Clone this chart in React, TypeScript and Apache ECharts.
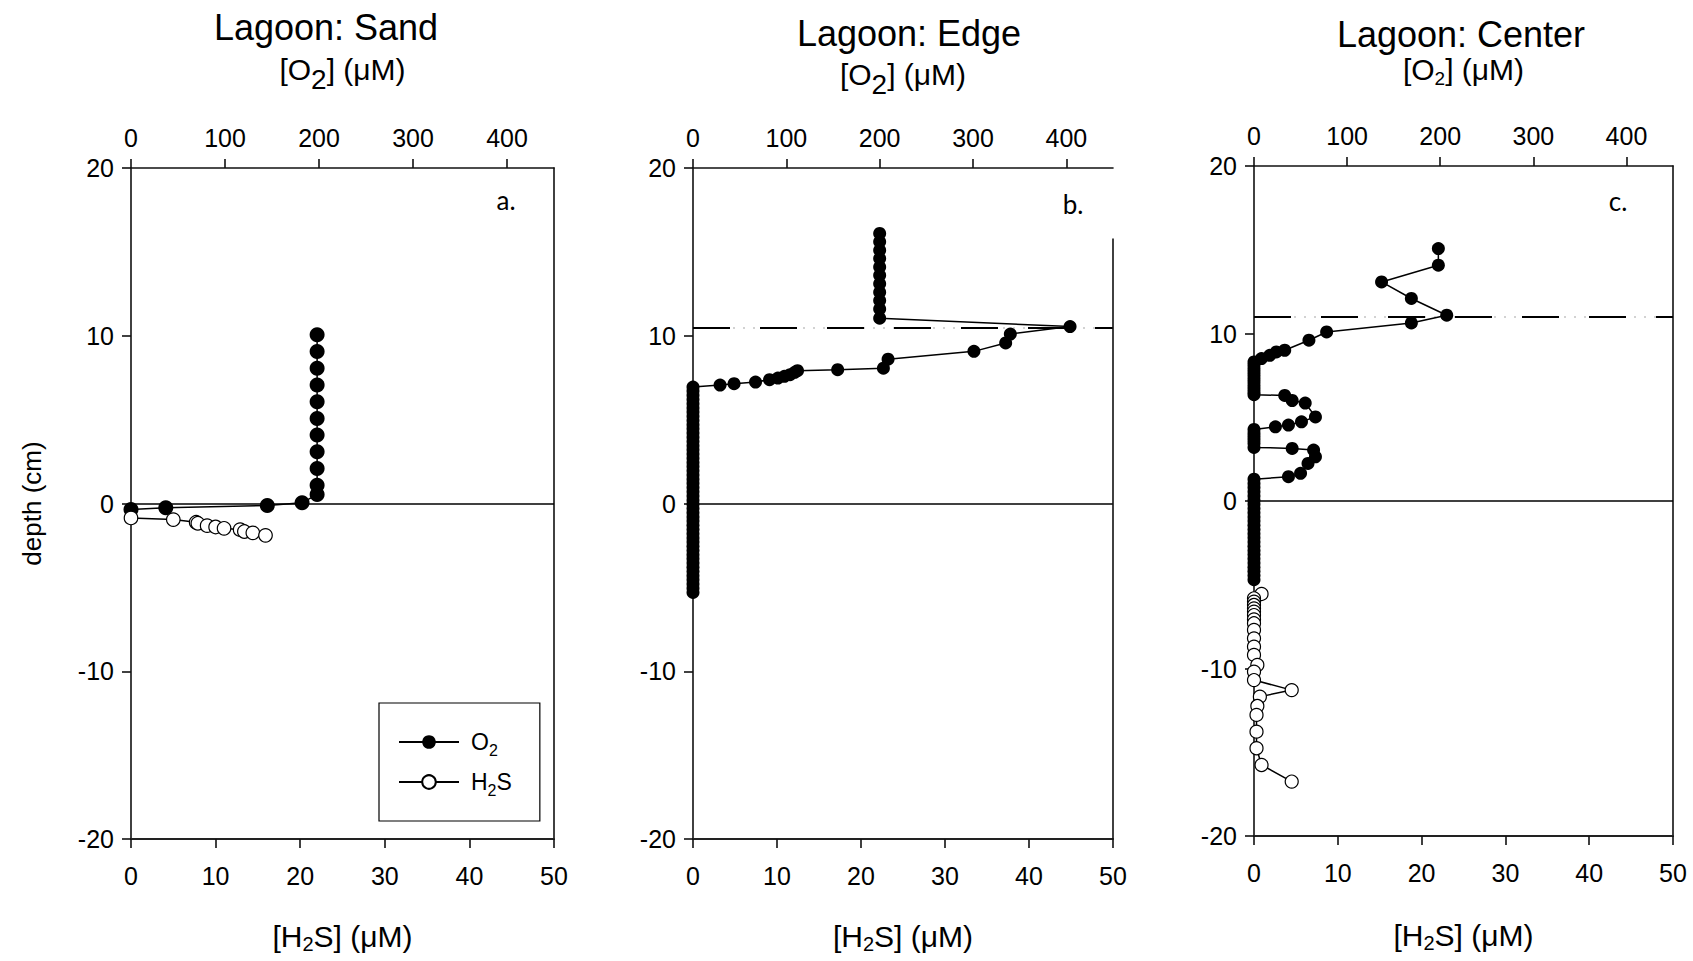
import React, { useEffect, useRef } from 'react';
import * as echarts from 'echarts';

const FONT = '"Liberation Sans", Arial, Helvetica, sans-serif';
const LETTER_FONT = 'Lato, "Open Sans", sans-serif';

// ---------- axis ranges / ticks ----------
const depthMin = -20;
const depthMax = 20;
const depthStep = 10;
const o2Max = 450;
const o2TickValues = [0, 100, 200, 300, 400];
const h2sMax = 50;
const h2sStep = 10;

// ---------- Lagoon: Sand ----------
const sandO2Depth = [-0.36, -0.26, -0.12, 0.04, 0.54, 1.09, 2.09, 3.08, 4.08, 5.07, 6.07, 7.07, 8.06, 9.06, 10.06];
const sandO2 = [0, 37, 145, 182, 198, 198, 198, 198, 198, 198, 198, 198, 198, 198, 198];
const sandH2SDepth = [-0.86, -0.96, -1.12, -1.18, -1.32, -1.4, -1.48, -1.56, -1.67, -1.75, -1.9];
const sandH2S = [0, 5.0, 7.7, 7.9, 9.0, 10.0, 11.0, 12.9, 13.4, 14.4, 15.9];

// ---------- Lagoon: Edge ----------
const edgeO2Depth = [
  16.1, 15.6, 15.1, 14.6, 14.1, 13.6, 13.1, 12.6, 12.1, 11.6, 11.05,
  10.55, 10.1, 9.57, 9.07, 8.6, 8.07, 7.98, 7.92, 7.82, 7.68, 7.58, 7.48, 7.38, 7.24, 7.14, 7.06, 6.94,
  6.7, 6.45, 6.2, 5.95, 5.7, 5.45, 5.2, 4.95, 4.7, 4.45,
  4.2, 3.95, 3.7, 3.45, 3.2, 2.95, 2.7, 2.45, 2.2, 1.95,
  1.7, 1.45, 1.2, 0.95, 0.7, 0.45, 0.2, -0.05, -0.3, -0.55,
  -0.8, -1.05, -1.3, -1.55, -1.8, -2.05, -2.3, -2.55, -2.8, -3.05,
  -3.3, -3.55, -3.8, -4.05, -4.3, -4.55, -4.8, -5.05, -5.3,
];
const edgeO2 = [
  200, 200, 200, 200, 200, 200, 200, 200, 200, 200, 200,
  404, 340, 335, 301, 209, 204, 155, 112, 109, 104, 98, 91, 82, 67, 44, 29, 0,
  0, 0, 0, 0, 0, 0, 0, 0, 0, 0,
  0, 0, 0, 0, 0, 0, 0, 0, 0, 0,
  0, 0, 0, 0, 0, 0, 0, 0, 0, 0,
  0, 0, 0, 0, 0, 0, 0, 0, 0, 0,
  0, 0, 0, 0, 0, 0, 0, 0, 0,
];
const edgeInterfaceDepth = 10.5;
const edgeRightBorderTop = 15.8;

// ---------- Lagoon: Center ----------
const centerO2Depth = [
  15.07, 14.08, 13.08, 12.09, 11.09, 10.63, 10.09, 9.6, 9.0, 8.9, 8.7, 8.5,
  8.3, 8.1, 7.9, 7.7, 7.5, 7.3, 7.1, 6.9, 6.7, 6.5, 6.35,
  6.3, 6.0, 5.85, 5.02, 4.73, 4.53, 4.43,
  4.27, 4.05, 3.85, 3.65, 3.45, 3.2,
  3.14, 3.04, 2.64, 2.24, 1.65, 1.45,
  1.3, 1.05, 0.8, 0.55, 0.3, 0.05, -0.2, -0.45, -0.7, -0.95,
  -1.2, -1.45, -1.7, -1.95, -2.2, -2.45, -2.7, -2.95, -3.2, -3.45,
  -3.7, -3.95, -4.2, -4.45, -4.7,
];
const centerO2 = [
  198, 198, 137, 169, 207, 169, 78, 59, 33, 24, 17, 8,
  0, 0, 0, 0, 0, 0, 0, 0, 0, 0, 0,
  33, 41, 55, 66, 51, 37, 23,
  0, 0, 0, 0, 0, 0,
  41, 64, 66, 58, 50, 37,
  0, 0, 0, 0, 0, 0, 0, 0, 0, 0,
  0, 0, 0, 0, 0, 0, 0, 0, 0, 0,
  0, 0, 0, 0, 0,
];
const centerH2SDepth = [
  -5.55, -5.81, -6.01, -6.21, -6.41, -6.61, -6.81, -7.07, -7.3, -7.7, -8.2, -8.7,
  -9.19, -9.79, -10.19, -10.69, -11.29, -11.68, -12.24, -12.77, -13.77, -14.76, -15.76, -16.75,
];
const centerH2S = [
  0.9, 0, 0, 0, 0, 0, 0, 0, 0, 0, 0, 0,
  0, 0.4, 0, 0, 4.5, 0.7, 0.4, 0.3, 0.3, 0.3, 0.9, 4.5,
];
const centerInterfaceDepth = 11.0;

// ---------- text ----------
const titles = ['Lagoon: Sand', 'Lagoon: Edge', 'Lagoon: Center'];
const panelLetters = ['a.', 'b.', 'c.'];

function pairs(conc: number[], depth: number[]) {
  return conc.map((c, i) => [c, depth[i]]);
}

const AX = { color: '#111', width: 1.6 };

const grids = [
  { left: 131, top: 168, width: 423, height: 671 },
  { left: 693, top: 168, width: 420, height: 671 },
  { left: 1254, top: 166, width: 419, height: 670 },
];

function bottomAxis(gi: number, nameGap: number) {
  return {
    type: 'value', gridIndex: gi, position: 'bottom', min: 0, max: h2sMax, interval: h2sStep,
    axisLine: { show: true, onZero: false, lineStyle: { color: '#222', width: 2 } },
    axisTick: { show: true, inside: false, length: 9, lineStyle: AX },
    axisLabel: { fontSize: 25, color: '#000', fontFamily: FONT, margin: 24 },
    splitLine: { show: false },
    name: '[H{s|2}S] (μM)', nameLocation: 'middle', nameGap,
    nameTextStyle: {
      fontSize: 30, fontFamily: FONT, color: '#000', lineHeight: 36,
      rich: { s: { fontSize: 20, height: 20, verticalAlign: 'bottom', fontFamily: FONT, color: '#000' } },
    },
  };
}

function topAxis(gi: number, nameGap: number, small: boolean) {
  return {
    type: 'value', gridIndex: gi, position: 'top', min: 0, max: o2Max,
    axisLine: { show: true, onZero: false, lineStyle: AX },
    axisTick: { show: true, inside: false, length: 9, lineStyle: AX, customValues: o2TickValues },
    axisLabel: { fontSize: 25, color: '#000', fontFamily: FONT, margin: 18, customValues: o2TickValues },
    splitLine: { show: false },
    name: '[O{s|2}] (μM)', nameLocation: 'middle', nameGap,
    nameTextStyle: small
      ? {
          fontSize: 30, fontFamily: FONT, color: '#000', lineHeight: 34,
          rich: { s: { fontSize: 19, height: 15, verticalAlign: 'bottom', fontFamily: FONT, color: '#000' } },
        }
      : {
          fontSize: 30, fontFamily: FONT, color: '#000', lineHeight: 48,
          rich: { s: { fontSize: 28, height: 28, verticalAlign: 'bottom', fontFamily: FONT, color: '#000' } },
        },
  };
}

function leftAxis(gi: number, withName: boolean) {
  return {
    type: 'value', gridIndex: gi, position: 'left', min: depthMin, max: depthMax, interval: depthStep,
    axisLine: { show: true, onZero: false, lineStyle: AX },
    axisTick: { show: true, inside: false, length: 9, lineStyle: AX },
    axisLabel: { fontSize: 25, color: '#000', fontFamily: FONT, margin: 17 },
    splitLine: { show: false },
    ...(withName
      ? {
          name: 'depth (cm)', nameLocation: 'middle', nameGap: 86, nameRotate: 90,
          nameTextStyle: { fontSize: 26, fontFamily: FONT, color: '#000' },
        }
      : {}),
  };
}

function rightBorder(gi: number) {
  return {
    type: 'value', gridIndex: gi, position: 'right', min: depthMin, max: depthMax, interval: depthStep,
    axisLine: { show: true, onZero: false, lineStyle: AX },
    axisTick: { show: false }, axisLabel: { show: false }, splitLine: { show: false },
  };
}

const zeroLine = { yAxis: 0, lineStyle: { color: '#000', type: 'solid', width: 1.6 } };
function interfaceLines(d: number) {
  return [
    { yAxis: d, lineStyle: { color: '#c4c4c4', type: [2, 8], width: 1.5 } },
    { yAxis: d, lineStyle: { color: '#000', type: [37, 30], width: 1.8 } },
  ];
}
function markLine(data: any[]) {
  return { silent: true, symbol: 'none', z: 1, label: { show: false }, emphasis: { disabled: true }, data };
}

function o2Series(xi: number, yi: number, data: number[][], size: number, ml?: any) {
  return {
    name: 'O2', type: 'line', xAxisIndex: xi, yAxisIndex: yi, data,
    symbol: 'circle', symbolSize: size, showAllSymbol: true,
    itemStyle: { color: '#000' },
    lineStyle: { color: '#000', width: 1.5 },
    z: 3,
    ...(ml ? { markLine: ml } : {}),
  };
}
function h2sSeries(xi: number, yi: number, data: number[][], size: number, ml?: any) {
  return {
    name: 'H2S', type: 'line', xAxisIndex: xi, yAxisIndex: yi, data,
    symbol: 'circle', symbolSize: size, showAllSymbol: true,
    itemStyle: { color: '#fff', borderColor: '#000', borderWidth: 1.2 },
    lineStyle: { color: '#000', width: 1.5 },
    z: 4,
    ...(ml ? { markLine: ml } : {}),
  };
}

function buildOption() {
  const titleText = (text: string, x: number, y: number) => ({
    type: 'text', x, y, silent: true,
    style: {
      text, fontSize: 36, lineHeight: 30, fontFamily: FONT, fill: '#000', align: 'center', verticalAlign: 'middle',
    },
  });
  const letter = (text: string, x: number, y: number) => ({
    type: 'text', x, y, silent: true,
    style: { text, fontSize: 26, fontFamily: LETTER_FONT, fill: '#000', align: 'center', verticalAlign: 'middle' },
  });

  return {
    animation: false,
    backgroundColor: '#fff',
    grid: grids.map((g) => ({ ...g, containLabel: false })),
    xAxis: [
      bottomAxis(0, 79), topAxis(0, 75, false),
      bottomAxis(1, 79), topAxis(1, 70, false),
      bottomAxis(2, 81), topAxis(2, 80, true),
    ],
    yAxis: [leftAxis(0, true), rightBorder(0), leftAxis(1, false), leftAxis(2, false), rightBorder(2)],
    legend: {
      data: ['O2', 'H2S'], orient: 'vertical', left: 379, top: 703,
      itemWidth: 60, itemHeight: 17, itemGap: 8,
      padding: [23, 28, 23, 19],
      borderColor: '#000', borderWidth: 1.2, backgroundColor: '#fff',
      selectedMode: false,
      formatter: (n: string) => (n === 'O2' ? 'O{s|2}' : 'H{s|2}S'),
      textStyle: {
        fontSize: 23, fontFamily: FONT, color: '#000', lineHeight: 32, padding: [0, 0, 0, 7],
        rich: { s: { fontSize: 16, height: 16, verticalAlign: 'bottom', fontFamily: FONT, color: '#000' } },
      },
    },
    series: [
      o2Series(1, 0, pairs(sandO2, sandO2Depth), 15),
      h2sSeries(0, 0, pairs(sandH2S, sandH2SDepth), 13.5, markLine([zeroLine])),
      o2Series(3, 2, pairs(edgeO2, edgeO2Depth), 13,
        markLine([
          zeroLine,
          ...interfaceLines(edgeInterfaceDepth),
          [
            { coord: [o2Max, edgeRightBorderTop], lineStyle: { color: '#111', type: 'solid', width: 1.6 } },
            { coord: [o2Max, depthMin] },
          ],
        ])),
      o2Series(5, 3, pairs(centerO2, centerO2Depth), 13, markLine(interfaceLines(centerInterfaceDepth))),
      h2sSeries(4, 3, pairs(centerH2S, centerH2SDepth), 13, markLine([zeroLine])),
    ],
    graphic: [
      titleText(titles[0], 326, 27),
      titleText(titles[1], 909, 33),
      titleText(titles[2], 1461, 34),
      letter(panelLetters[0], 506, 200),
      letter(panelLetters[1], 1073, 204),
      letter(panelLetters[2], 1618, 201),
    ],
  };
}

export default function App() {
  const ref = useRef<HTMLDivElement>(null);
  useEffect(() => {
    if (!ref.current) return;
    const chart = echarts.init(ref.current, null, { renderer: 'svg' });
    chart.setOption(buildOption() as any);
    return () => chart.dispose();
  }, []);
  return (
    <div
      ref={ref}
      style={{ position: 'absolute', left: 0, top: 0, width: 1693, height: 961, background: '#fff' }}
    />
  );
}
